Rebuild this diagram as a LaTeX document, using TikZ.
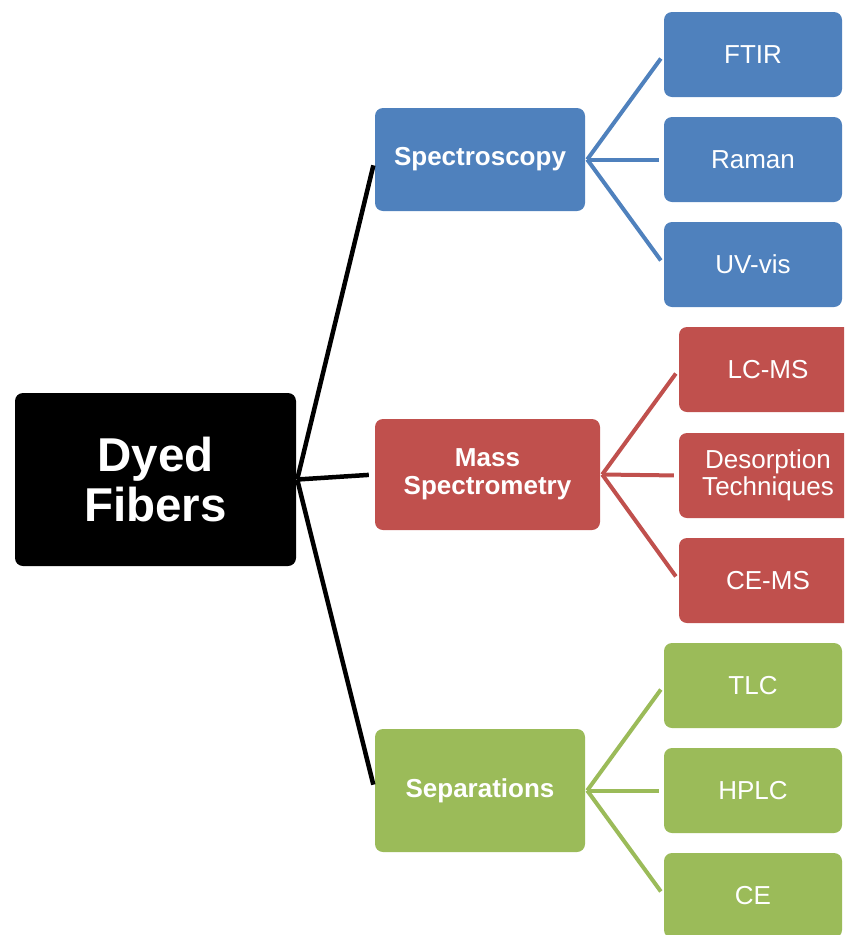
\documentclass[tikz,border=0pt]{standalone}
\usepackage{fontspec}
\setmainfont{Liberation Sans}
\definecolor{cblue}{HTML}{4F81BD}
\definecolor{cred}{HTML}{C0504D}
\definecolor{cgreen}{HTML}{9BBB59}
\tikzset{
  box/.style={rectangle, rounded corners=8pt, inner sep=0pt, text=white, align=center, draw=none},
  rootbox/.style={box, fill=black, minimum width=281pt, minimum height=173pt, font=\bfseries\fontsize{47.5}{50}\selectfont},
  catbox/.style={box, minimum width=210pt, font=\bfseries\fontsize{26}{28}\selectfont},
  leafbox/.style={box, minimum width=178pt, minimum height=85pt, font=\fontsize{26}{27}\selectfont},
  rootline/.style={line width=4.5pt, black, shorten >=6pt},
  leafline/.style={line width=4pt, shorten >=5pt},
}
\begin{document}
\begin{tikzpicture}[x=1pt,y=-1pt]
\useasboundingbox (0,0) rectangle (844,935);
\begin{scope}
\clip (0,0) rectangle (844,935);
% root
\node[rootbox] (root) at (155.5,479.5) {Dyed\\Fibers};
% categories
\node[catbox, fill=cblue, minimum height=103pt] (spec) at (480,159.5) {Spectroscopy};
\node[catbox, fill=cred, minimum width=225pt, minimum height=111pt] (mass) at (487.5,474.5) {Mass\\Spectrometry};
\node[catbox, fill=cgreen, minimum height=123pt] (sep) at (480,790.5) {Separations};
% leaves
\node[leafbox, fill=cblue] (ftir) at (753,54.5) {FTIR};
\node[leafbox, fill=cblue] (raman) at (753,159.5) {Raman};
\node[leafbox, fill=cblue] (uvvis) at (753,264.5) {UV-vis};
\node[leafbox, fill=cred] (lcms) at (768,369.5) {LC-MS};
\node[leafbox, fill=cred] (desorp) at (768,475.5) {Desorption\\Techniques};
\node[leafbox, fill=cred] (cems) at (768,580.5) {CE-MS};
\node[leafbox, fill=cgreen] (tlc) at (753,685.5) {TLC};
\node[leafbox, fill=cgreen] (hplc) at (753,790.5) {HPLC};
\node[leafbox, fill=cgreen] (ce) at (753,895.5) {CE};
% connectors
\foreach \t in {spec,mass,sep} \draw[rootline] ([xshift=1pt]root.east) -- (\t.west);
\foreach \t in {ftir,raman,uvvis} \draw[leafline, cblue] ([xshift=2pt]spec.east) -- (\t.west);
\foreach \t in {lcms,desorp,cems} \draw[leafline, cred] ([xshift=2pt]mass.east) -- (\t.west);
\foreach \t in {tlc,hplc,ce} \draw[leafline, cgreen] ([xshift=2pt]sep.east) -- (\t.west);
\end{scope}
\end{tikzpicture}
\end{document}
